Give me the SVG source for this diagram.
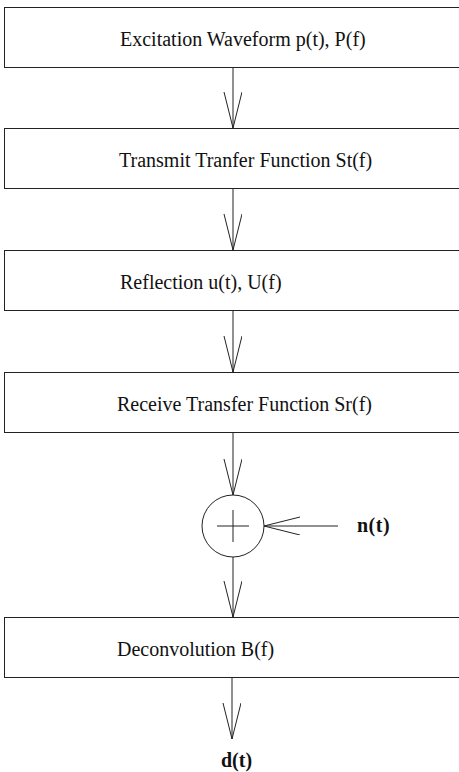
<svg xmlns="http://www.w3.org/2000/svg" width="459" height="772" viewBox="0 0 459 772">
<defs>
<style>
.box{fill:#fff;stroke:#222;stroke-width:1}
.ln{fill:none;stroke:#222;stroke-width:1}
.t{font-family:"Liberation Serif",serif;font-size:20px;fill:#111}
.b{font-family:"Liberation Serif",serif;font-size:20px;font-weight:bold;fill:#111}
</style>
<marker id="v" markerWidth="40" markerHeight="20" refX="36" refY="9" orient="auto" markerUnits="userSpaceOnUse">
<path d="M0,0 L36,9 L0,18" fill="none" stroke="#222" stroke-width="1"/>
</marker>
</defs>
<rect width="459" height="772" fill="#fff"/>
<g id="connectors">
<line class="ln" x1="233" y1="67" x2="233" y2="128" marker-end="url(#v)"/>
<line class="ln" x1="233" y1="189" x2="233" y2="250" marker-end="url(#v)"/>
<line class="ln" x1="233" y1="311" x2="233" y2="372" marker-end="url(#v)"/>
<line class="ln" x1="233" y1="433" x2="233" y2="495" marker-end="url(#v)"/>
<line class="ln" x1="338" y1="526" x2="264" y2="526" marker-end="url(#v)"/>
<line class="ln" x1="233" y1="557" x2="233" y2="617" marker-end="url(#v)"/>
<line class="ln" x1="232" y1="678" x2="232" y2="739" marker-end="url(#v)"/>
</g>
<g id="n1"><rect class="box" x="4.5" y="7.5" width="455" height="60"/><text class="t" x="120" y="46">Excitation Waveform p(t), P(f)</text></g>
<g id="n2"><rect class="box" x="4.5" y="128.5" width="455" height="60"/><text class="t" x="119" y="167">Transmit Tranfer Function St(f)</text></g>
<g id="n3"><rect class="box" x="4.5" y="250.5" width="455" height="60"/><text class="t" x="120" y="289">Reflection u(t), U(f)</text></g>
<g id="n4"><rect class="box" x="4.5" y="372.5" width="455" height="60"/><text class="t" x="117" y="411">Receive Transfer Function Sr(f)</text></g>
<g id="sum"><circle class="ln" cx="233" cy="526" r="31"/><line class="ln" x1="217" y1="526" x2="249" y2="526"/><line class="ln" x1="233" y1="510" x2="233" y2="542"/></g>
<g id="noise"><text class="b" x="357" y="532" font-size="21" letter-spacing="0.5">n(t)</text></g>
<g id="n5"><rect class="box" x="4.5" y="617.5" width="455" height="60"/><text class="t" x="117" y="656">Deconvolution B(f)</text></g>
<g id="out"><text class="b" x="221" y="767">d(t)</text></g>
</svg>
